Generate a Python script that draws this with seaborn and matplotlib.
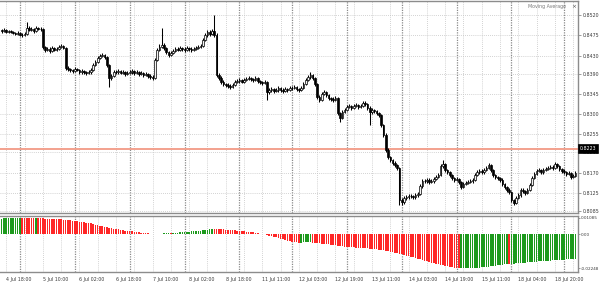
import matplotlib
matplotlib.use("Agg")
import matplotlib.pyplot as plt
import matplotlib.transforms as mtransforms
import numpy as np
import pandas as pd
import seaborn as sns

# ---------------- data (hourly bars, 4 Jul 16:00 ... 18 Jul) ----------------
first_open = 0.8486
closes = [
    0.8484, 0.8487, 0.8482, 0.8484, 0.8482, 0.8480, 0.8478, 0.8480, 0.8476, 0.8476, 0.8478, 0.8491,
    0.8487, 0.8489, 0.8484, 0.8491, 0.8489, 0.8489, 0.8449, 0.8442, 0.8445, 0.8440, 0.8447, 0.8442,
    0.8445, 0.8449, 0.8451, 0.8447, 0.8402, 0.8400, 0.8398, 0.8396, 0.8400, 0.8398, 0.8393, 0.8396,
    0.8393, 0.8391, 0.8393, 0.8398, 0.8409, 0.8416, 0.8425, 0.8429, 0.8431, 0.8427, 0.8409, 0.8380,
    0.8385, 0.8393, 0.8393, 0.8396, 0.8391, 0.8393, 0.8389, 0.8391, 0.8393, 0.8396, 0.8391, 0.8393,
    0.8389, 0.8391, 0.8387, 0.8389, 0.8385, 0.8382, 0.8380, 0.8420, 0.8442, 0.8449, 0.8453, 0.8447,
    0.8438, 0.8431, 0.8436, 0.8440, 0.8445, 0.8442, 0.8447, 0.8445, 0.8442, 0.8447, 0.8445, 0.8442,
    0.8445, 0.8447, 0.8449, 0.8451, 0.8465, 0.8476, 0.8482, 0.8478, 0.8484, 0.8476, 0.8387, 0.8380,
    0.8371, 0.8367, 0.8365, 0.8362, 0.8360, 0.8365, 0.8371, 0.8373, 0.8376, 0.8371, 0.8376, 0.8378,
    0.8380, 0.8378, 0.8376, 0.8380, 0.8373, 0.8371, 0.8369, 0.8371, 0.8349, 0.8354, 0.8356, 0.8351,
    0.8354, 0.8358, 0.8354, 0.8351, 0.8356, 0.8354, 0.8358, 0.8358, 0.8360, 0.8356, 0.8354, 0.8358,
    0.8367, 0.8376, 0.8382, 0.8387, 0.8380, 0.8367, 0.8338, 0.8331, 0.8345, 0.8349, 0.8342, 0.8336,
    0.8334, 0.8331, 0.8336, 0.8302, 0.8291, 0.8305, 0.8309, 0.8316, 0.8318, 0.8314, 0.8318, 0.8320,
    0.8316, 0.8318, 0.8325, 0.8322, 0.8314, 0.8305, 0.8309, 0.8307, 0.8302, 0.8298, 0.8276, 0.8254,
    0.8220, 0.8205, 0.8198, 0.8191, 0.8187, 0.8180, 0.8109, 0.8105, 0.8114, 0.8116, 0.8118, 0.8118,
    0.8116, 0.8120, 0.8123, 0.8140, 0.8151, 0.8151, 0.8154, 0.8149, 0.8151, 0.8156, 0.8160, 0.8165,
    0.8185, 0.8189, 0.8176, 0.8171, 0.8165, 0.8158, 0.8154, 0.8156, 0.8149, 0.8138, 0.8145, 0.8147,
    0.8149, 0.8151, 0.8154, 0.8165, 0.8171, 0.8174, 0.8171, 0.8176, 0.8180, 0.8187, 0.8176, 0.8165,
    0.8160, 0.8158, 0.8154, 0.8145, 0.8138, 0.8132, 0.8127, 0.8109, 0.8103, 0.8114, 0.8120, 0.8132,
    0.8129, 0.8125, 0.8132, 0.8143, 0.8158, 0.8167, 0.8174, 0.8176, 0.8171, 0.8176, 0.8178, 0.8180,
    0.8183, 0.8180, 0.8189, 0.8185, 0.8178, 0.8174, 0.8171, 0.8167, 0.8169, 0.8160, 0.8163, 0.8169,
]
highs = [
    0.8490, 0.8491, 0.8489, 0.8487, 0.8486, 0.8485, 0.8483, 0.8484, 0.8482, 0.8480, 0.8482, 0.8504,
    0.8495, 0.8493, 0.8491, 0.8495, 0.8494, 0.8493, 0.8491, 0.8452, 0.8449, 0.8448, 0.8451, 0.8450,
    0.8449, 0.8453, 0.8456, 0.8454, 0.8449, 0.8406, 0.8403, 0.8401, 0.8404, 0.8403, 0.8401, 0.8400,
    0.8399, 0.8396, 0.8397, 0.8402, 0.8413, 0.8420, 0.8429, 0.8434, 0.8436, 0.8434, 0.8430, 0.8411,
    0.8389, 0.8397, 0.8397, 0.8400, 0.8399, 0.8397, 0.8396, 0.8395, 0.8397, 0.8400, 0.8399, 0.8397,
    0.8396, 0.8395, 0.8394, 0.8393, 0.8392, 0.8388, 0.8386, 0.8424, 0.8446, 0.8455, 0.8491, 0.8457,
    0.8450, 0.8441, 0.8440, 0.8444, 0.8449, 0.8448, 0.8451, 0.8450, 0.8448, 0.8451, 0.8450, 0.8448,
    0.8449, 0.8451, 0.8453, 0.8455, 0.8469, 0.8481, 0.8487, 0.8486, 0.8489, 0.8520, 0.8479, 0.8391,
    0.8384, 0.8375, 0.8370, 0.8368, 0.8366, 0.8369, 0.8375, 0.8377, 0.8380, 0.8379, 0.8380, 0.8382,
    0.8384, 0.8383, 0.8381, 0.8384, 0.8383, 0.8376, 0.8374, 0.8375, 0.8373, 0.8358, 0.8360, 0.8359,
    0.8358, 0.8362, 0.8361, 0.8357, 0.8360, 0.8359, 0.8362, 0.8362, 0.8364, 0.8363, 0.8359, 0.8362,
    0.8371, 0.8380, 0.8387, 0.8393, 0.8390, 0.8383, 0.8370, 0.8342, 0.8349, 0.8353, 0.8352, 0.8345,
    0.8339, 0.8337, 0.8340, 0.8339, 0.8305, 0.8309, 0.8313, 0.8320, 0.8322, 0.8321, 0.8322, 0.8324,
    0.8323, 0.8322, 0.8329, 0.8328, 0.8325, 0.8317, 0.8313, 0.8312, 0.8310, 0.8305, 0.8300, 0.8279,
    0.8257, 0.8224, 0.8208, 0.8201, 0.8195, 0.8190, 0.8183, 0.8113, 0.8118, 0.8120, 0.8122, 0.8122,
    0.8121, 0.8124, 0.8127, 0.8144, 0.8155, 0.8155, 0.8158, 0.8157, 0.8155, 0.8160, 0.8164, 0.8170,
    0.8189, 0.8198, 0.8192, 0.8179, 0.8174, 0.8168, 0.8161, 0.8160, 0.8159, 0.8152, 0.8149, 0.8151,
    0.8153, 0.8155, 0.8158, 0.8169, 0.8175, 0.8178, 0.8177, 0.8180, 0.8184, 0.8191, 0.8190, 0.8179,
    0.8168, 0.8163, 0.8161, 0.8157, 0.8148, 0.8141, 0.8135, 0.8130, 0.8112, 0.8118, 0.8124, 0.8136,
    0.8135, 0.8132, 0.8136, 0.8147, 0.8162, 0.8171, 0.8178, 0.8180, 0.8179, 0.8180, 0.8182, 0.8184,
    0.8187, 0.8186, 0.8193, 0.8192, 0.8188, 0.8181, 0.8177, 0.8174, 0.8173, 0.8172, 0.8167, 0.8173,
]
lows = [
    0.8481, 0.8482, 0.8479, 0.8480, 0.8479, 0.8477, 0.8475, 0.8476, 0.8473, 0.8472, 0.8474, 0.8476,
    0.8484, 0.8485, 0.8481, 0.8482, 0.8486, 0.8484, 0.8445, 0.8437, 0.8439, 0.8436, 0.8438, 0.8439,
    0.8440, 0.8442, 0.8446, 0.8444, 0.8398, 0.8396, 0.8394, 0.8392, 0.8393, 0.8395, 0.8389, 0.8390,
    0.8389, 0.8387, 0.8388, 0.8390, 0.8395, 0.8406, 0.8413, 0.8422, 0.8426, 0.8423, 0.8405, 0.8360,
    0.8376, 0.8382, 0.8389, 0.8390, 0.8388, 0.8388, 0.8385, 0.8386, 0.8388, 0.8390, 0.8387, 0.8388,
    0.8385, 0.8386, 0.8383, 0.8384, 0.8381, 0.8378, 0.8376, 0.8378, 0.8417, 0.8439, 0.8446, 0.8443,
    0.8434, 0.8427, 0.8428, 0.8433, 0.8437, 0.8439, 0.8439, 0.8441, 0.8438, 0.8439, 0.8441, 0.8438,
    0.8439, 0.8442, 0.8444, 0.8446, 0.8448, 0.8462, 0.8472, 0.8474, 0.8475, 0.8472, 0.8383, 0.8375,
    0.8367, 0.8363, 0.8361, 0.8358, 0.8356, 0.8357, 0.8362, 0.8368, 0.8370, 0.8368, 0.8368, 0.8373,
    0.8375, 0.8374, 0.8372, 0.8373, 0.8369, 0.8367, 0.8365, 0.8366, 0.8331, 0.8345, 0.8350, 0.8347,
    0.8348, 0.8350, 0.8350, 0.8347, 0.8348, 0.8350, 0.8351, 0.8354, 0.8355, 0.8352, 0.8350, 0.8351,
    0.8355, 0.8364, 0.8373, 0.8379, 0.8376, 0.8363, 0.8334, 0.8326, 0.8328, 0.8342, 0.8338, 0.8332,
    0.8330, 0.8327, 0.8328, 0.8298, 0.8282, 0.8288, 0.8302, 0.8306, 0.8313, 0.8310, 0.8311, 0.8315,
    0.8312, 0.8313, 0.8315, 0.8318, 0.8310, 0.8276, 0.8301, 0.8303, 0.8298, 0.8294, 0.8272, 0.8250,
    0.8216, 0.8200, 0.8193, 0.8187, 0.8183, 0.8176, 0.8098, 0.8099, 0.8101, 0.8110, 0.8112, 0.8113,
    0.8112, 0.8112, 0.8117, 0.8120, 0.8137, 0.8147, 0.8148, 0.8145, 0.8146, 0.8148, 0.8153, 0.8157,
    0.8162, 0.8181, 0.8172, 0.8167, 0.8161, 0.8154, 0.8150, 0.8151, 0.8145, 0.8134, 0.8135, 0.8142,
    0.8144, 0.8146, 0.8148, 0.8151, 0.8162, 0.8168, 0.8167, 0.8168, 0.8173, 0.8177, 0.8172, 0.8161,
    0.8156, 0.8154, 0.8150, 0.8141, 0.8134, 0.8128, 0.8123, 0.8105, 0.8098, 0.8100, 0.8111, 0.8117,
    0.8125, 0.8121, 0.8122, 0.8129, 0.8140, 0.8155, 0.8164, 0.8171, 0.8167, 0.8168, 0.8173, 0.8175,
    0.8177, 0.8176, 0.8177, 0.8181, 0.8174, 0.8170, 0.8167, 0.8163, 0.8164, 0.8156, 0.8157, 0.8160,
]
osc = [
    0.01040, 0.01047, 0.01054, 0.01060, 0.01066, 0.01071, 0.01076, 0.01080, 0.01085, 0.01083, 0.01080, 0.01077,
    0.01073, 0.01069, 0.01065, 0.01067, 0.01060, 0.01052, 0.01045, 0.01038, 0.01030, 0.01022, 0.01014, 0.01006,
    0.00998, 0.00990, 0.00980, 0.00968, 0.00955, 0.00940, 0.00922, 0.00903, 0.00883, 0.00862, 0.00840, 0.00818,
    0.00796, 0.00773, 0.00750, 0.00718, 0.00680, 0.00640, 0.00598, 0.00555, 0.00525, 0.00497, 0.00470, 0.00440,
    0.00410, 0.00380, 0.00350, 0.00322, 0.00295, 0.00270, 0.00248, 0.00225, 0.00205, 0.00185, 0.00165, 0.00145,
    0.00125, 0.00105, 0.00088, 0.00070, 0.00055, 0.00040, 0.00020, 0.00024, 0.00028, 0.00036, 0.00045, 0.00054,
    0.00063, 0.00072, 0.00070, 0.00080, 0.00093, 0.00106, 0.00120, 0.00135, 0.00150, 0.00160, 0.00172, 0.00185,
    0.00198, 0.00212, 0.00228, 0.00245, 0.00265, 0.00285, 0.00308, 0.00332, 0.00358, 0.00352, 0.00345, 0.00337,
    0.00328, 0.00319, 0.00310, 0.00300, 0.00290, 0.00278, 0.00265, 0.00250, 0.00235, 0.00218, 0.00200, 0.00182,
    0.00163, 0.00143, 0.00122, 0.00100, 0.00078, 0.00050, 0.00025, -0.00005, -0.00040, -0.00080, -0.00120, -0.00165,
    -0.00205, -0.00248, -0.00290, -0.00335, -0.00378, -0.00420, -0.00460, -0.00490, -0.00515, -0.00535, -0.00550, -0.00545,
    -0.00541, -0.00538, -0.00536, -0.00535, -0.00545, -0.00555, -0.00570, -0.00590, -0.00610, -0.00630, -0.00650, -0.00670,
    -0.00690, -0.00710, -0.00730, -0.00752, -0.00775, -0.00795, -0.00812, -0.00828, -0.00842, -0.00855, -0.00866, -0.00877,
    -0.00888, -0.00898, -0.00908, -0.00918, -0.00930, -0.00945, -0.00962, -0.00980, -0.01000, -0.01020, -0.01042, -0.01065,
    -0.01090, -0.01115, -0.01140, -0.01170, -0.01205, -0.01240, -0.01280, -0.01320, -0.01360, -0.01400, -0.01440, -0.01480,
    -0.01520, -0.01560, -0.01600, -0.01645, -0.01690, -0.01735, -0.01780, -0.01825, -0.01865, -0.01905, -0.01945, -0.01985,
    -0.02020, -0.02055, -0.02090, -0.02120, -0.02150, -0.02180, -0.02205, -0.02228, -0.02248, -0.02243, -0.02238, -0.02232,
    -0.02226, -0.02220, -0.02214, -0.02208, -0.02202, -0.02195, -0.02180, -0.02163, -0.02146, -0.02128, -0.02110, -0.02090,
    -0.02070, -0.02050, -0.02030, -0.02010, -0.01990, -0.01970, -0.01975, -0.01955, -0.01940, -0.01925, -0.01910, -0.01895,
    -0.01880, -0.01865, -0.01852, -0.01840, -0.01828, -0.01816, -0.01804, -0.01792, -0.01780, -0.01768, -0.01756, -0.01744,
    -0.01733, -0.01722, -0.01711, -0.01700, -0.01690, -0.01680, -0.01670, -0.01660, -0.01650, -0.01640, -0.01630, -0.01620,
]

time_labels = ["4 Jul 18:00", "5 Jul 10:00", "6 Jul 02:00", "6 Jul 18:00", "7 Jul 10:00",
               "8 Jul 02:00", "8 Jul 18:00", "11 Jul 11:00", "12 Jul 03:00", "12 Jul 19:00",
               "13 Jul 11:00", "14 Jul 03:00", "14 Jul 19:00", "15 Jul 11:00", "18 Jul 04:00",
               "18 Jul 20:00"]
label_bars = [2, 18, 34, 50, 66, 82, 98, 114, 130, 146, 162, 178, 194, 210, 226, 242]
grid_bars = [2, 10, 18, 26, 34, 42, 50, 58, 66, 74, 82, 90, 98, 106, 114, 122, 130, 138, 146,
             154, 162, 170, 178, 186, 194, 202, 210, 218, 226, 234, 242, 250]
day_start_bars = [8, 32, 56, 80, 104, 127, 151, 175, 199, 223, 246]

price_ticks = [0.8520, 0.8475, 0.8430, 0.8390, 0.8345, 0.8300, 0.8255, 0.8215, 0.8170, 0.8125, 0.8085]
price_tick_labels = ["0.8520", "0.8475", "0.8430", "0.8390", "0.8345", "0.8300", "0.8255",
                     "0.8215", "0.8170", "0.8125", "0.8085"]
osc_ticks = [0.01085, 0.0, -0.02248]
osc_tick_labels = ["0.01085", "0.00", "-0.02248"]
price_line = 0.8223
price_line_label = "0.8223"
indicator_name = "Moving Average"

n = len(closes)
assert len(highs) == n and len(lows) == n and len(osc) == n, (len(closes), len(highs), len(lows), len(osc))
opens = [first_open] + closes[:-1]
bars = np.arange(n)

# ---------------- style ----------------
sns.set_theme(style="white")
plt.rcParams["font.family"] = ["DejaVu Sans"]
GRID_LIGHT = "#c4c4c4"
GRID_DARK = "#8a8a8a"
FRAME = "#8c8c8c"
TXT = "#3a3a3a"
UP_COL = "#1d9a1d"
DN_COL = "#ff2626"
FS = 3.4

fig = plt.figure(figsize=(6.0, 2.83), dpi=100)
fig.patch.set_facecolor("white")
ax = fig.add_axes([0.0, 1 - 213 / 283, 578 / 600, 212 / 283])
ax2 = fig.add_axes([0.0, 1 - 272 / 283, 578 / 600, 56 / 283])

xlim = (-0.74, 252.1)
for a in (ax, ax2):
    a.set_facecolor("white")
    a.set_xlim(*xlim)
    for s in ("top", "right", "bottom"):
        a.spines[s].set_color(FRAME)
        a.spines[s].set_linewidth(1.0)
    a.spines["left"].set_visible(False)
    a.vlines(grid_bars, 0, 1, transform=a.get_xaxis_transform(), colors=GRID_LIGHT,
             linestyles=(0, (1, 1.5)), linewidth=0.6, zorder=0)
    a.vlines(day_start_bars, 0, 1, transform=a.get_xaxis_transform(), colors=GRID_DARK,
             linestyles=(0, (1, 1)), linewidth=0.9, zorder=0)

# ---------------- main candlestick panel ----------------
ax.set_ylim(0.80804, 0.85511)
ax.hlines(price_ticks, xlim[0], xlim[1], colors=GRID_LIGHT, linestyles=(0, (1, 1.5)),
          linewidth=0.6, zorder=0)

o = np.array(opens)
c = np.array(closes)
h = np.array(highs)
l = np.array(lows)
ax.vlines(bars, l, h, colors="black", linewidth=0.75, zorder=3)
body_bottom = np.minimum(o, c)
body_height = np.maximum(np.abs(c - o), 0.00004)
bull = c >= o
ax.bar(bars[bull], body_height[bull], bottom=body_bottom[bull], width=0.7,
       color="#f2f2f2", edgecolor="black", linewidth=0.5, zorder=4)
ax.bar(bars[~bull], body_height[~bull], bottom=body_bottom[~bull], width=0.7,
       color="black", edgecolor="black", linewidth=0.5, zorder=4)

ax.axhline(price_line, color="#f29a86", linewidth=1.3, zorder=2)

ax.yaxis.tick_right()
ax.set_yticks(price_ticks)
ax.set_yticklabels(price_tick_labels)
ax.set_xticks([])
ax.tick_params(axis="y", length=2, width=0.6, pad=1.5, labelsize=FS, labelcolor=TXT, color=FRAME)

blend = mtransforms.blended_transform_factory(ax.transAxes, ax.transData)
ax.text(1.003, price_line, price_line_label, transform=blend, fontsize=FS, color="white",
        ha="left", va="center", clip_on=False, zorder=10,
        bbox=dict(boxstyle="square,pad=0.4", fc="black", ec="black", lw=0.5))

ax.text(0.913, 0.972, indicator_name, transform=ax.transAxes, fontsize=FS, color="#7a7a7a",
        ha="left", va="center")
ax.text(0.988, 0.972, "\u00d7", transform=ax.transAxes, fontsize=4.2, color="#555555",
        ha="left", va="center")

# ---------------- oscillator histogram ----------------
osc_arr = np.array(osc)
direction = ["up"] + ["up" if osc_arr[i] > osc_arr[i - 1] else "down" for i in range(1, n)]
df = pd.DataFrame({"bar": bars, "osc": osc_arr, "dir": direction})
sns.barplot(data=df, x="bar", y="osc", hue="dir", palette={"up": UP_COL, "down": DN_COL},
            native_scale=True, dodge=False, width=0.68, errorbar=None, legend=False,
            saturation=1, linewidth=0, ax=ax2, zorder=3)
ax2.set_xlim(*xlim)
ax2.set_ylim(-0.02488, 0.01208)
ax2.set_xlabel("")
ax2.set_ylabel("")
ax2.yaxis.tick_right()
ax2.set_yticks(osc_ticks)
ax2.set_yticklabels(osc_tick_labels)
ax2.tick_params(axis="y", length=1.5, width=0.6, pad=0.6, labelsize=3.0, labelcolor=TXT, color=FRAME)
ax2.set_xticks(label_bars)
ax2.set_xticklabels(time_labels, ha="left")
ax2.tick_params(axis="x", length=2, width=0.6, pad=1.5, labelsize=FS, labelcolor=TXT, color=FRAME)

fig.savefig("out.png", dpi=100, facecolor="white")
